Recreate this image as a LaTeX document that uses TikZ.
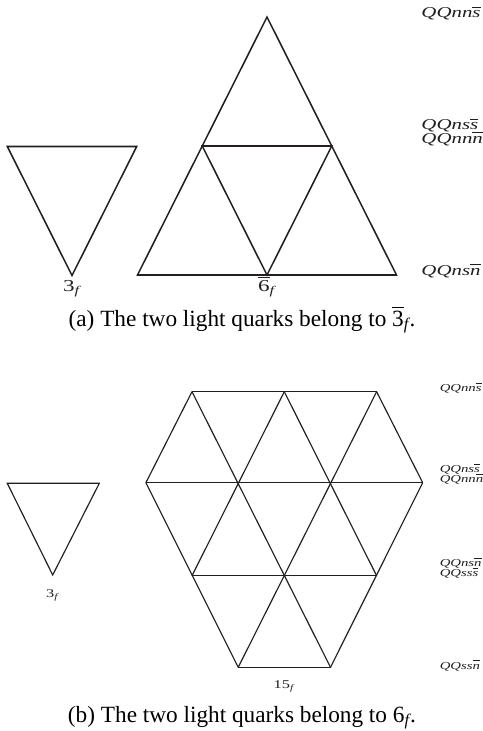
\documentclass[tikz,border=0pt]{standalone}
\usepackage{fontspec}
\setmainfont{Liberation Serif}
\usepackage{graphicx}
\definecolor{ink}{HTML}{231F20}
\newcommand{\wide}[1]{\scalebox{1.38}[1]{#1}}
\newcommand{\qbar}[1]{$\overline{\mbox{\itshape #1}}$}
\newcommand{\flav}[2]{\wide{\itshape #1\qbar{#2}}}
\newcommand{\rep}[1]{\wide{#1\textsubscript{\itshape f}}}

\begin{document}
\begin{tikzpicture}[x=0.43pt, y=-0.43pt,
  tri/.style={ink, line width=0.65pt},
  tris/.style={ink, line width=0.5pt},
  flav/.style={ink, anchor=base west, inner sep=0pt, font=\fontsize{6.5}{7}\selectfont},
  flavs/.style={ink, anchor=base west, inner sep=0pt, font=\fontsize{4.6}{5}\selectfont},
  repl/.style={ink, anchor=base, inner sep=0pt, font=\fontsize{7.2}{8}\selectfont},
  repls/.style={ink, anchor=base, inner sep=0pt, font=\fontsize{5.1}{6}\selectfont},
  capt/.style={anchor=base, inner sep=0pt, font=\fontsize{10}{12}\selectfont}]
\useasboundingbox (0,0) rectangle (483,731);

%%% Panel (a): light quarks in 3bar_f
\begin{scope}
  % 3_f
  \coordinate (a3l) at (7.3,146.5);
  \coordinate (a3r) at (136.7,146.5);
  \coordinate (a3b) at (72,275.5);
  \draw[tri] (a3l) -- (a3r) -- (a3b) -- cycle;

  % 6bar_f
  \coordinate (a6t) at (267,17);
  \coordinate (a6l) at (137.5,275);
  \coordinate (a6r) at (396.5,275);
  \coordinate (a6ml) at (202.25,146);
  \coordinate (a6mr) at (331.75,146);
  \coordinate (a6mb) at (267,275);
  \draw[tri] (a6t) -- (a6l) -- (a6r) -- cycle;
  \draw[tri] (a6ml) -- (a6mr) -- (a6mb) -- cycle;

  % Representation names
  \node[repl] (a3name) at (72,291.5) {\rep{3}};
  \node[repl] (a6name) at (267,291.5) {\rep{$\overline{\mbox{6}}$}};

  % Flavour content per row
  \node[flav] (arow1) at (421,17.5) {\flav{QQnn}{s}};
  \node[flav] (arow2a) at (421,129.5) {\flav{QQns}{s}};
  \node[flav] (arow2b) at (421,143) {\flav{QQnn}{n}};
  \node[flav] (arow3) at (421,275) {\flav{QQns}{n}};

  % Caption
  \node[capt] (capa) at (242,326)
    {(a) The two light quarks belong to $\overline{\mbox{3}}$\textsubscript{\itshape f}.};
\end{scope}

%%% Panel (b): light quarks in 6_f
\begin{scope}
  % 3_f
  \coordinate (b3l) at (7.3,483.3);
  \coordinate (b3r) at (99.3,483.3);
  \coordinate (b3b) at (52.7,575);
  \draw[tris] (b3l) -- (b3r) -- (b3b) -- cycle;

  % 15_f lattice points, row by row
  \coordinate (b00) at (192,391.7);
  \coordinate (b01) at (284.3,391.7);
  \coordinate (b02) at (376.6,391.7);
  \coordinate (b10) at (145.9,482.7);
  \coordinate (b11) at (238.2,482.7);
  \coordinate (b12) at (330.5,482.7);
  \coordinate (b13) at (422.7,482.7);
  \coordinate (b20) at (192,575.7);
  \coordinate (b21) at (284.3,575.7);
  \coordinate (b22) at (376.6,575.7);
  \coordinate (b30) at (238.2,667.3);
  \coordinate (b31) at (330.5,667.3);

  % horizontal lines
  \draw[tris] (b00) -- (b02);
  \draw[tris] (b10) -- (b13);
  \draw[tris] (b20) -- (b22);
  \draw[tris] (b30) -- (b31);
  % down-right lines
  \draw[tris] (b10) -- (b30);
  \draw[tris] (b00) -- (b31);
  \draw[tris] (b01) -- (b22);
  \draw[tris] (b02) -- (b13);
  % down-left lines
  \draw[tris] (b00) -- (b10);
  \draw[tris] (b01) -- (b20);
  \draw[tris] (b02) -- (b30);
  \draw[tris] (b13) -- (b31);

  % Representation names
  \node[repls] (b3name) at (52.7,597) {\rep{3}};
  \node[repls] (b15name) at (284.3,688) {\rep{15}};

  % Flavour content per row
  \node[flavs] (brow1) at (439.3,391.7) {\flav{QQnn}{s}};
  \node[flavs] (brow2a) at (439.3,472.5) {\flav{QQns}{s}};
  \node[flavs] (brow2b) at (439.3,482.5) {\flav{QQnn}{n}};
  \node[flavs] (brow3a) at (439.3,566.5) {\flav{QQns}{n}};
  \node[flavs] (brow3b) at (439.3,576.5) {\flav{QQss}{s}};
  \node[flavs] (brow4) at (439.3,669) {\flav{QQss}{n}};

  % Caption
  \node[capt] (capb) at (242,722.5)
    {(b) The two light quarks belong to 6\textsubscript{\itshape f}.};
\end{scope}

\end{tikzpicture}
\end{document}
